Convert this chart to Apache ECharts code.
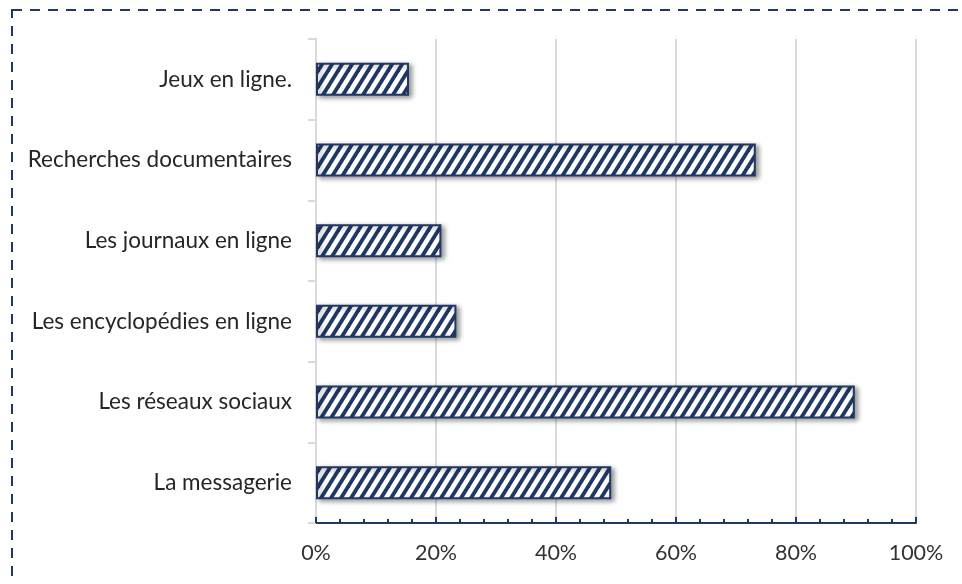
<!DOCTYPE html>
<html>
<head>
<meta charset="utf-8">
<script src="https://cdn.jsdelivr.net/npm/echarts@6/dist/echarts.min.js"></script>
<style>
html,body{margin:0;padding:0;background:#fff;}
#chart{width:962px;height:584px;}
</style>
</head>
<body>
<div id="chart"></div>
<script>
const categories = ['La messagerie', 'Les réseaux sociaux', 'Les encyclopédies en ligne', 'Les journaux en ligne', 'Recherches documentaires', 'Jeux en ligne.'];
const values = [49.2, 89.8, 23.4, 20.9, 73.3, 15.5];
const tickLabels = ['0%', '20%', '40%', '60%', '80%', '100%'];

const NAVY = '#1f3864';
function makePattern() {
  const w = 10, h = 16, t = 4.5;
  const c = document.createElement('canvas');
  c.width = w; c.height = h;
  const ctx = c.getContext('2d');
  ctx.fillStyle = '#ffffff';
  ctx.fillRect(0, 0, w, h);
  ctx.fillStyle = NAVY;
  for (const x of [-10, 0, 10]) {
    ctx.beginPath();
    ctx.moveTo(x, h);
    ctx.lineTo(x + t, h);
    ctx.lineTo(x + t + w, 0);
    ctx.lineTo(x + w, 0);
    ctx.closePath();
    ctx.fill();
  }
  return c;
}

const chart = echarts.init(document.getElementById('chart'), null, {renderer: 'canvas'});
const FONT = 'Lato';
chart.setOption({
  backgroundColor: '#ffffff',
  animation: false,
  graphic: [{
    type: 'rect',
    shape: {x: 12, y: 10, width: 2000, height: 2000},
    style: {fill: 'none', stroke: NAVY, lineWidth: 2, lineDash: [10, 8]},
    silent: true
  }],
  grid: {left: 316, right: 46, top: 39, bottom: 61, containLabel: false},
  xAxis: {
    type: 'value',
    min: 0, max: 100, interval: 20,
    axisLine: {show: true, lineStyle: {color: NAVY, width: 2}},
    axisTick: {show: true, inside: true, length: 6, lineStyle: {color: NAVY, width: 2}},
    minorTick: {show: true, splitNumber: 5, length: 4, lineStyle: {color: NAVY, width: 2}},
    splitLine: {show: true, lineStyle: {color: '#d9d9d9', width: 2}},
    axisLabel: {
      margin: 19,
      color: '#333333',
      fontFamily: FONT,
      fontSize: 21.5,
      formatter: function (v) { return tickLabels[Math.round(v / 20)]; }
    }
  },
  yAxis: {
    type: 'category',
    data: categories,
    axisLine: {show: true, lineStyle: {color: '#d9d9d9', width: 2}},
    axisTick: {show: true, length: 8, lineStyle: {color: '#d9d9d9', width: 2}},
    axisLabel: {margin: 24, color: '#262626', fontFamily: FONT, fontSize: 22.5}
  },
  series: [{
    type: 'bar',
    data: values,
    barWidth: 33,
    itemStyle: {
      color: {image: makePattern(), repeat: 'repeat'},
      borderColor: NAVY,
      borderWidth: 2,
      shadowColor: 'rgba(0,0,0,0.4)',
      shadowBlur: 5,
      shadowOffsetX: 3,
      shadowOffsetY: 2
    }
  }]
});
</script>
</body>
</html>
